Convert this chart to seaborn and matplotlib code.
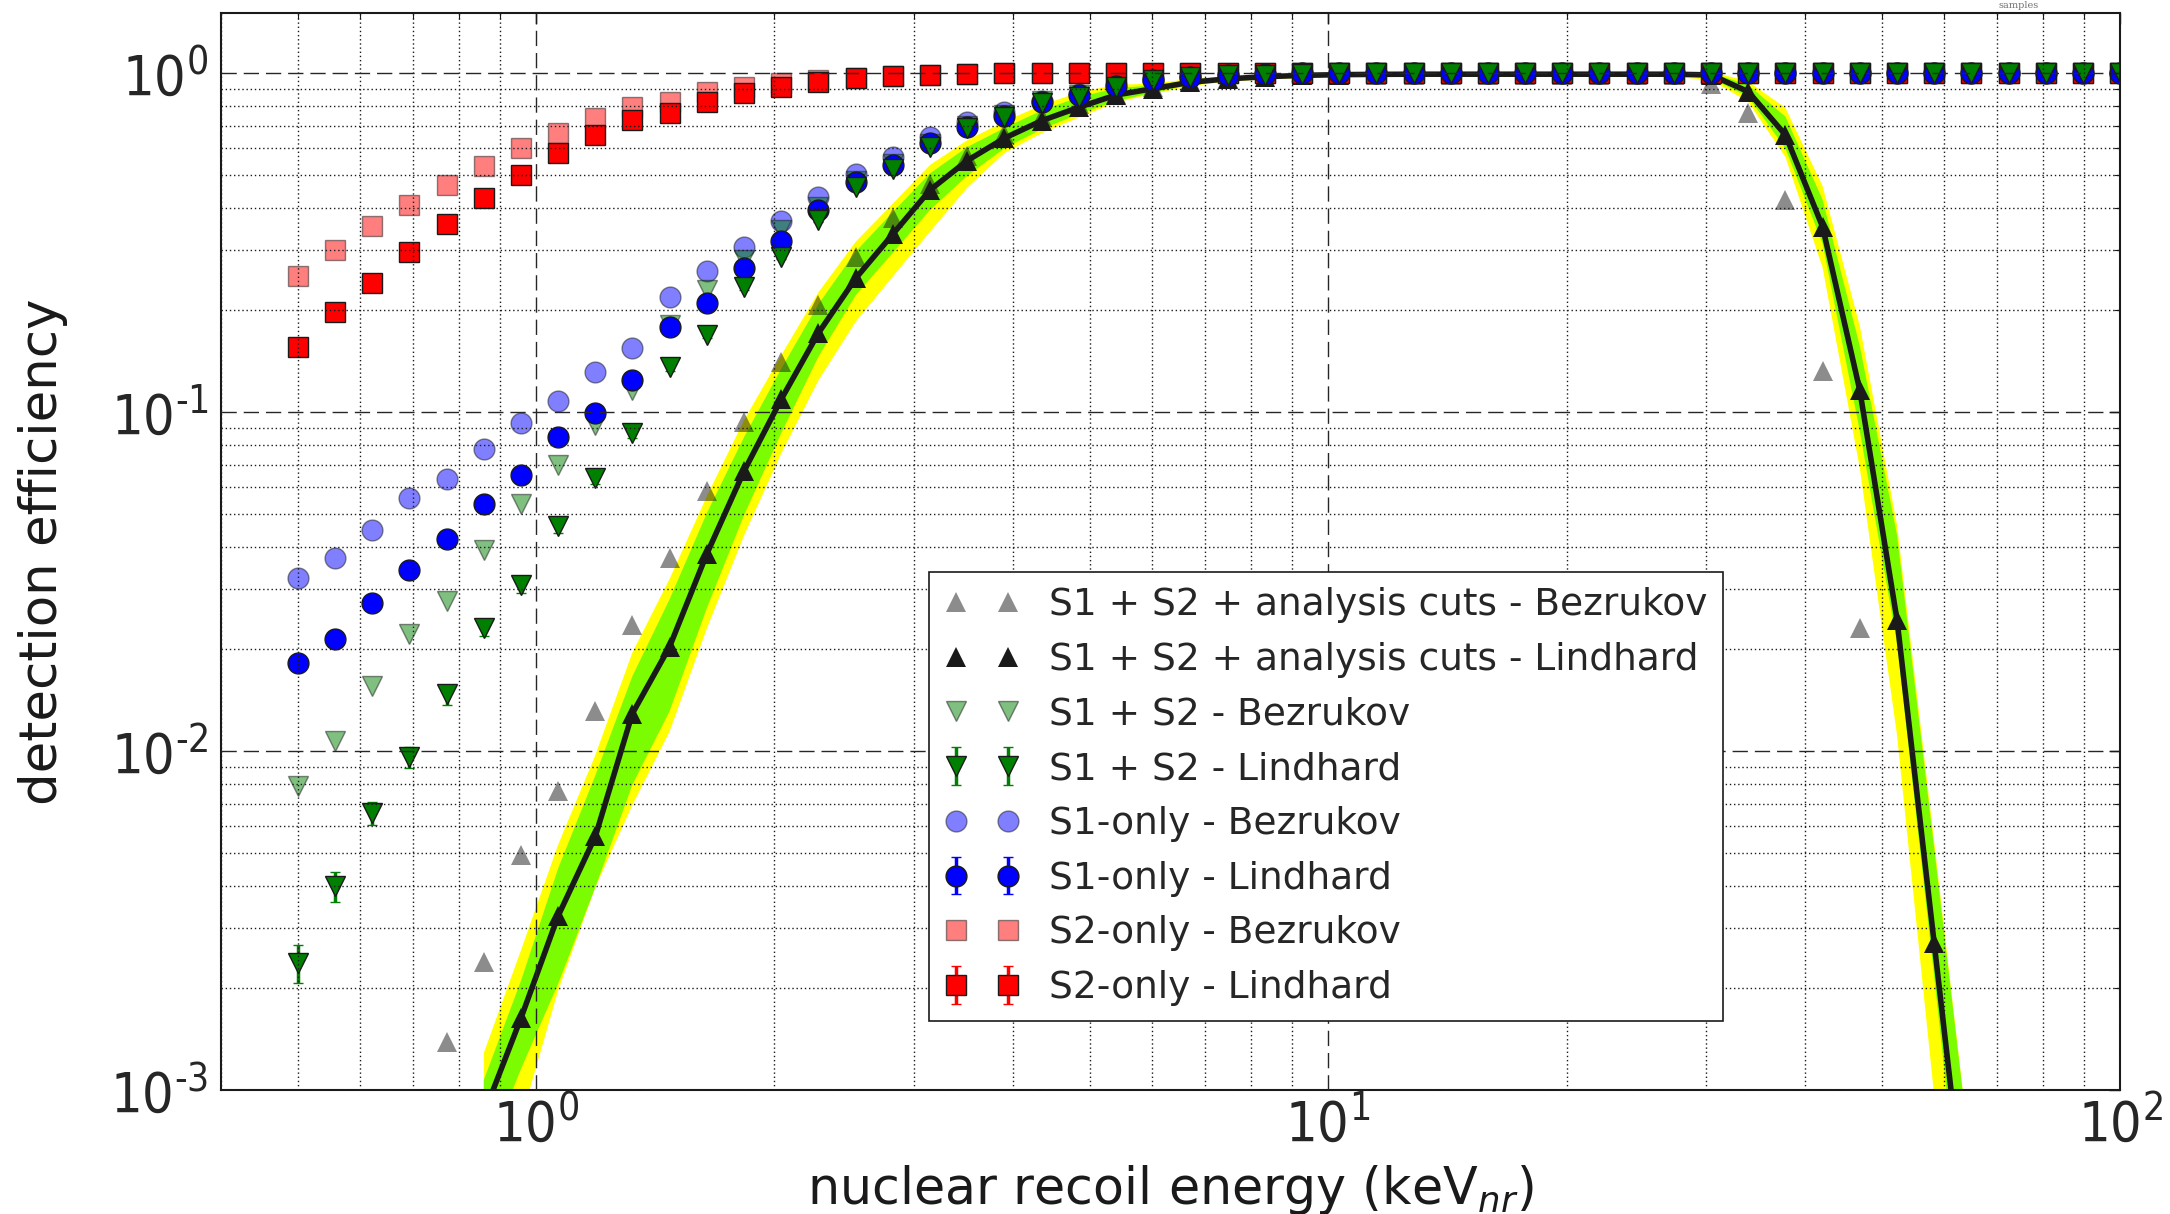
import numpy as np
import pandas as pd
import matplotlib
matplotlib.use("Agg")
import matplotlib.pyplot as plt
import seaborn as sns
from matplotlib import font_manager as fm
from matplotlib.ticker import LogLocator, FuncFormatter, NullFormatter

nan = np.nan

# ---------------- data ----------------
energy = [0.500, 0.557, 0.621, 0.692, 0.771, 0.859, 0.957, 1.066, 1.188, 1.323,
          1.474, 1.643, 1.830, 2.039, 2.272, 2.532, 2.821, 3.143, 3.502, 3.902,
          4.348, 4.844, 5.397, 6.014, 6.700, 7.465, 8.318, 9.268, 10.33, 11.50,
          12.82, 14.28, 15.91, 17.73, 19.76, 22.01, 24.53, 27.33, 30.45, 33.92,
          37.80, 42.11, 46.92, 52.28, 58.25, 64.90, 72.32, 80.58, 89.78, 100.0]

s2_lindhard = [0.156, 0.198, 0.241, 0.297, 0.359, 0.429, 0.501, 0.580, 0.657, 0.728,
               0.762, 0.824, 0.873, 0.909, 0.944, 0.966, 0.980, 0.988, 0.995, 1.0,
               1.0, 1.0, 1.0, 1.0, 1.0, 1.0, 1.0, 1.0, 1.0, 1.0,
               1.0, 1.0, 1.0, 1.0, 1.0, 1.0, 1.0, 1.0, 1.0, 1.0,
               1.0, 1.0, 1.0, 1.0, 1.0, 1.0, 1.0, 1.0, 1.0, 1.0]
s2_bezrukov = [0.252, 0.301, 0.354, 0.407, 0.468, 0.533, 0.603, 0.668, 0.736, 0.793,
               0.824, 0.882, 0.908, 0.934, 0.955, 0.970, 0.982, 0.990, 0.995, 1.0,
               1.0, 1.0, 1.0, 1.0, 1.0, 1.0, 1.0, 1.0, 1.0, 1.0,
               1.0, 1.0, 1.0, 1.0, 1.0, 1.0, 1.0, 1.0, 1.0, 1.0,
               1.0, 1.0, 1.0, 1.0, 1.0, 1.0, 1.0, 1.0, 1.0, 1.0]
s1_lindhard = [0.01815, 0.0214, 0.0273, 0.0343, 0.0421, 0.0536, 0.0651, 0.0842, 0.0997, 0.1245,
               0.178, 0.2104, 0.267, 0.3206, 0.395, 0.478, 0.535, 0.621, 0.695, 0.750,
               0.820, 0.860, 0.915, 0.955, 0.977, 0.988, 0.993, 1.0, 1.0, 1.0,
               1.0, 1.0, 1.0, 1.0, 1.0, 1.0, 1.0, 1.0, 1.0, 1.0,
               1.0, 1.0, 1.0, 1.0, 1.0, 1.0, 1.0, 1.0, 1.0, 1.0]
s1_bezrukov = [0.0325, 0.0370, 0.0448, 0.0559, 0.0633, 0.0776, 0.0928, 0.108, 0.1317, 0.1543,
               0.219, 0.260, 0.306, 0.367, 0.432, 0.505, 0.567, 0.650, 0.720, 0.770,
               0.830, 0.870, 0.920, 0.960, 0.980, 0.990, 0.995, 1.0, 1.0, 1.0,
               1.0, 1.0, 1.0, 1.0, 1.0, 1.0, 1.0, 1.0, 1.0, 1.0,
               1.0, 1.0, 1.0, 1.0, 1.0, 1.0, 1.0, 1.0, 1.0, 1.0]
s1s2_lindhard = [0.00237, 0.00399, 0.00657, 0.0096, 0.0147, 0.0231, 0.0309, 0.0461, 0.0639, 0.087,
                 0.136, 0.169, 0.2335, 0.2875, 0.369, 0.460, 0.520, 0.607, 0.688, 0.744,
                 0.815, 0.853, 0.912, 0.955, 0.977, 0.985, 0.990, 0.995, 1.0, 1.0,
                 1.0, 1.0, 1.0, 1.0, 1.0, 1.0, 1.0, 1.0, 1.0, 1.0,
                 1.0, 1.0, 1.0, 1.0, 1.0, 1.0, 1.0, 1.0, 1.0, 1.0]
s1s2_lindhard_err = [0.0003, 0.0004, 0.0005, 0.0007, 0.001, 0.0013, 0.0016, 0.002, 0.0025, 0.003,
                     0.004, 0.004, 0.005, 0.005, 0.006, 0.006, 0.006, 0.005, 0.005, 0.004,
                     0.004, 0.003, 0.003, 0.002, 0.002, 0.001, 0.001, 0.0, 0.0, 0.0,
                     0.0, 0.0, 0.0, 0.0, 0.0, 0.0, 0.0, 0.0, 0.0, 0.0,
                     0.0, 0.0, 0.0, 0.0, 0.0, 0.0, 0.0, 0.0, 0.0, 0.0]
s1s2_bezrukov = [0.00788, 0.0107, 0.0156, 0.0221, 0.0277, 0.0393, 0.0537, 0.070, 0.0919, 0.116,
                 0.181, 0.229, 0.281, 0.345, 0.404, 0.480, 0.540, 0.620, 0.700, 0.755,
                 0.825, 0.865, 0.920, 0.960, 0.980, 0.990, 0.995, 1.0, 1.0, 1.0,
                 1.0, 1.0, 1.0, 1.0, 1.0, 1.0, 1.0, 1.0, 1.0, 1.0,
                 1.0, 1.0, 1.0, 1.0, 1.0, 1.0, 1.0, 1.0, 1.0, 1.0]
cuts_lindhard = [nan, nan, nan, nan, nan, 8.5e-4, 0.00163, 0.00326, 0.0056, 0.0129,
                 0.0203, 0.0382, 0.0669, 0.109, 0.171, 0.248, 0.335, 0.452, 0.552, 0.643,
                 0.724, 0.793, 0.862, 0.900, 0.940, 0.962, 0.976, 0.985, 0.990, 0.992,
                 0.993, 0.993, 0.993, 0.993, 0.993, 0.993, 0.993, 0.993, 0.988, 0.882,
                 0.657, 0.352, 0.116, 0.0244, 0.00271, 3.0e-4, nan, nan, nan, nan]
cuts_bezrukov = [nan, nan, nan, nan, 0.00139, 0.00239, 0.00494, 0.0076, 0.0131, 0.0236,
                 0.037, 0.0584, 0.0934, 0.141, 0.207, 0.2875, 0.373, 0.470, 0.570, 0.660,
                 0.740, 0.810, 0.870, 0.910, 0.945, 0.965, 0.975, 0.985, 0.990, 0.990,
                 0.990, 0.990, 0.990, 0.990, 0.990, 0.990, 0.990, 0.990, 0.930, 0.762,
                 0.423, 0.132, 0.023, nan, nan, nan, nan, nan, nan, nan]

# uncertainty bands of the "cuts - Lindhard" curve (points 5..45), offsets in decades
band_first, band_last = 5, 45
band_2s_up = [0.18, 0.20, 0.21, 0.24, 0.18, 0.20, 0.17, 0.15, 0.13, 0.12,
              0.108, 0.09, 0.074, 0.06, 0.049, 0.046, 0.044, 0.03, 0.015, 0.01,
              0.006, 0.006, 0.006, 0.006, 0.006, 0.006, 0.006, 0.006, 0.006, 0.006,
              0.006, 0.006, 0.006, 0.01, 0.03, 0.08, 0.12, 0.19, 0.28, 0.30, 0.30]
band_1s_up = [0.10, 0.11, 0.14, 0.18, 0.11, 0.14, 0.12, 0.10, 0.09, 0.085,
              0.079, 0.065, 0.049, 0.04, 0.03, 0.03, 0.03, 0.02, 0.01, 0.006,
              0.004, 0.004, 0.004, 0.004, 0.004, 0.004, 0.004, 0.004, 0.004, 0.004,
              0.004, 0.004, 0.004, 0.006, 0.02, 0.054, 0.08, 0.13, 0.25, 0.28, 0.30]
band_1s_lo = [-0.14, -0.15, -0.20, -0.15, -0.21, -0.19, -0.16, -0.13, -0.10, -0.07,
              -0.05, -0.055, -0.059, -0.045, -0.03, -0.025, -0.02, -0.018, -0.012, -0.008,
              -0.005, -0.005, -0.005, -0.005, -0.005, -0.005, -0.005, -0.005, -0.005, -0.005,
              -0.005, -0.005, -0.005, -0.01, -0.015, -0.04, -0.05, -0.12, -0.07, -0.10, -0.15]
band_2s_lo = [-0.30, -0.30, -0.22, -0.15, -0.27, -0.25, -0.22, -0.19, -0.16, -0.14,
              -0.128, -0.125, -0.123, -0.08, -0.044, -0.037, -0.03, -0.022, -0.015, -0.012,
              -0.008, -0.008, -0.008, -0.008, -0.008, -0.008, -0.008, -0.008, -0.008, -0.008,
              -0.008, -0.008, -0.008, -0.015, -0.03, -0.065, -0.12, -0.23, -0.34, -0.45, -0.50]

legend_labels = ["S1 + S2 + analysis cuts - Bezrukov",
                 "S1 + S2 + analysis cuts - Lindhard",
                 "S1 + S2 - Bezrukov",
                 "S1 + S2 - Lindhard",
                 "S1-only - Bezrukov",
                 "S1-only - Lindhard",
                 "S2-only - Bezrukov",
                 "S2-only - Lindhard"]

# ---------------- style ----------------
sns.set_theme(style="white")
plt.rcParams["font.family"] = ["DejaVu Sans"]

_ttf = fm.fontManager.ttflist
if any(f.name == "Liberation Sans Narrow" for f in _ttf):
    TICK_FONT = "Liberation Sans Narrow"
elif any(f.name == "DejaVu Sans" and f.stretch == "condensed" for f in _ttf):
    TICK_FONT = "DejaVu Sans:stretch=condensed"
else:
    TICK_FONT = "DejaVu Sans"

plt.rcParams["mathtext.fontset"] = "custom"
plt.rcParams["mathtext.rm"] = TICK_FONT
plt.rcParams["mathtext.it"] = "DejaVu Sans:italic"
plt.rcParams["mathtext.bf"] = "DejaVu Sans:bold"
plt.rcParams["mathtext.sf"] = "DejaVu Sans"
plt.rcParams["lines.scale_dashes"] = True

E = np.array(energy)
MS = 15

fig = plt.figure(figsize=(21.7, 12.14), dpi=100)
ax = fig.add_axes([0.1018, 0.1021, 0.8752, 0.8868])
ax.set_xscale("log")
ax.set_yscale("log")

handles = {}

# S2-only
h = ax.errorbar(E, s2_lindhard, yerr=np.zeros(len(E)), fmt="s", color="red", mfc="red",
                mec="k", mew=1.0, ms=MS, ecolor="red", elinewidth=2.5, capsize=3.5,
                capthick=2.5, label=legend_labels[7])
handles[legend_labels[7]] = h
h, = ax.plot(E, s2_bezrukov, "s", color="red", mec="k", mew=1.0, ms=MS, alpha=0.5,
             label=legend_labels[6])
handles[legend_labels[6]] = h
# S1-only
h = ax.errorbar(E, s1_lindhard, yerr=np.zeros(len(E)), fmt="o", color="blue", mfc="blue",
                mec="k", mew=1.0, ms=MS, ecolor="blue", elinewidth=2.5, capsize=3.5,
                capthick=2.5, label=legend_labels[5])
handles[legend_labels[5]] = h
h, = ax.plot(E, s1_bezrukov, "o", color="blue", mec="k", mew=1.0, ms=MS, alpha=0.5,
             label=legend_labels[4])
handles[legend_labels[4]] = h
# S1 + S2
h = ax.errorbar(E, s1s2_lindhard, yerr=s1s2_lindhard_err, fmt="v", color="green",
                mfc="green", mec="k", mew=1.0, ms=MS, ecolor="green", elinewidth=2.5,
                capsize=3.5, capthick=2.5, label=legend_labels[3])
handles[legend_labels[3]] = h
h, = ax.plot(E, s1s2_bezrukov, "v", color="green", mec="k", mew=1.0, ms=MS, alpha=0.5,
             label=legend_labels[2])
handles[legend_labels[2]] = h

# bands around the analysis-cuts (Lindhard) curve
Eb = E[band_first:band_last + 1]
cb = np.array(cuts_lindhard[band_first:band_last + 1])
ax.fill_between(Eb, cb * 10 ** np.array(band_2s_lo), cb * 10 ** np.array(band_2s_up),
                color="yellow", lw=0, zorder=2)
ax.fill_between(Eb, cb * 10 ** np.array(band_1s_lo), cb * 10 ** np.array(band_1s_up),
                color="#7CFC00", lw=0, zorder=2)

# central curve
df = pd.DataFrame({"energy": E, "eff": cuts_lindhard}).dropna()
sns.lineplot(data=df, x="energy", y="eff", color="k", lw=4.0, ax=ax, legend=False,
             errorbar=None, sort=True, zorder=2)

h, = ax.plot(E, cuts_lindhard, "^", color="k", ms=MS, mew=0, label=legend_labels[1])
handles[legend_labels[1]] = h
h, = ax.plot(E, cuts_bezrukov, "^", color="k", ms=MS, mew=0, alpha=0.5,
             label=legend_labels[0])
handles[legend_labels[0]] = h

# ---------------- axes ----------------
ax.set_xlim(0.4, 100)
ax.set_ylim(1e-3, 1.5)

ax.xaxis.set_major_locator(LogLocator(base=10))
ax.yaxis.set_major_locator(LogLocator(base=10))
ax.xaxis.set_minor_locator(LogLocator(base=10, subs=np.arange(2, 10), numticks=20))
ax.yaxis.set_minor_locator(LogLocator(base=10, subs=np.arange(2, 10), numticks=20))


def _pow10(v, p):
    e = int(round(np.log10(v)))
    s = ("\u2010%d" % -e) if e < 0 else ("%d" % e)
    return r"$\mathrm{10^{" + s + "}}$"


fmt = FuncFormatter(_pow10)
ax.xaxis.set_major_formatter(fmt)
ax.yaxis.set_major_formatter(fmt)
ax.xaxis.set_minor_formatter(NullFormatter())
ax.yaxis.set_minor_formatter(NullFormatter())

ax.set_axisbelow(False)
ax.grid(True, which="major", color="0.15", linestyle=(0, (11, 5)), lw=1.0)
ax.grid(True, which="minor", color="k", linestyle=(0, (1, 2)), lw=1.0)

ax.tick_params(which="both", direction="in", top=True, right=True, color="k")
ax.tick_params(which="major", length=8, width=1.0, labelsize=40)
ax.tick_params(which="minor", length=4, width=0.8)
ax.tick_params(axis="x", which="major", pad=5)
ax.tick_params(axis="y", which="major", pad=9)

for s in ax.spines.values():
    s.set_color("k")
    s.set_linewidth(1.5)

ax.set_xlabel(r"nuclear recoil energy (keV$_{nr}$)", fontsize=36.5, color="k")
ax.set_ylabel("detection efficiency", fontsize=37, color="k")
ax.xaxis.set_label_coords(0.5, -0.068)
ax.yaxis.set_label_coords(-0.0806, 0.5)

leg = ax.legend([handles[l] for l in legend_labels], legend_labels, loc="lower left",
                bbox_to_anchor=(0.373, 0.064), borderaxespad=0.0, fontsize=27,
                numpoints=2, labelspacing=0.5, borderpad=0.4, handlelength=2.0,
                handletextpad=0.8, frameon=True, fancybox=False, framealpha=1.0,
                edgecolor="k")
leg.get_frame().set_linewidth(1.2)
leg.set_zorder(10)

fig.text(2019 / 2170, 1 - 6 / 1214, "samples", fontsize=7, color="0.45",
         ha="center", va="center", family="DejaVu Serif")

fig.savefig("out.png", dpi=100)
